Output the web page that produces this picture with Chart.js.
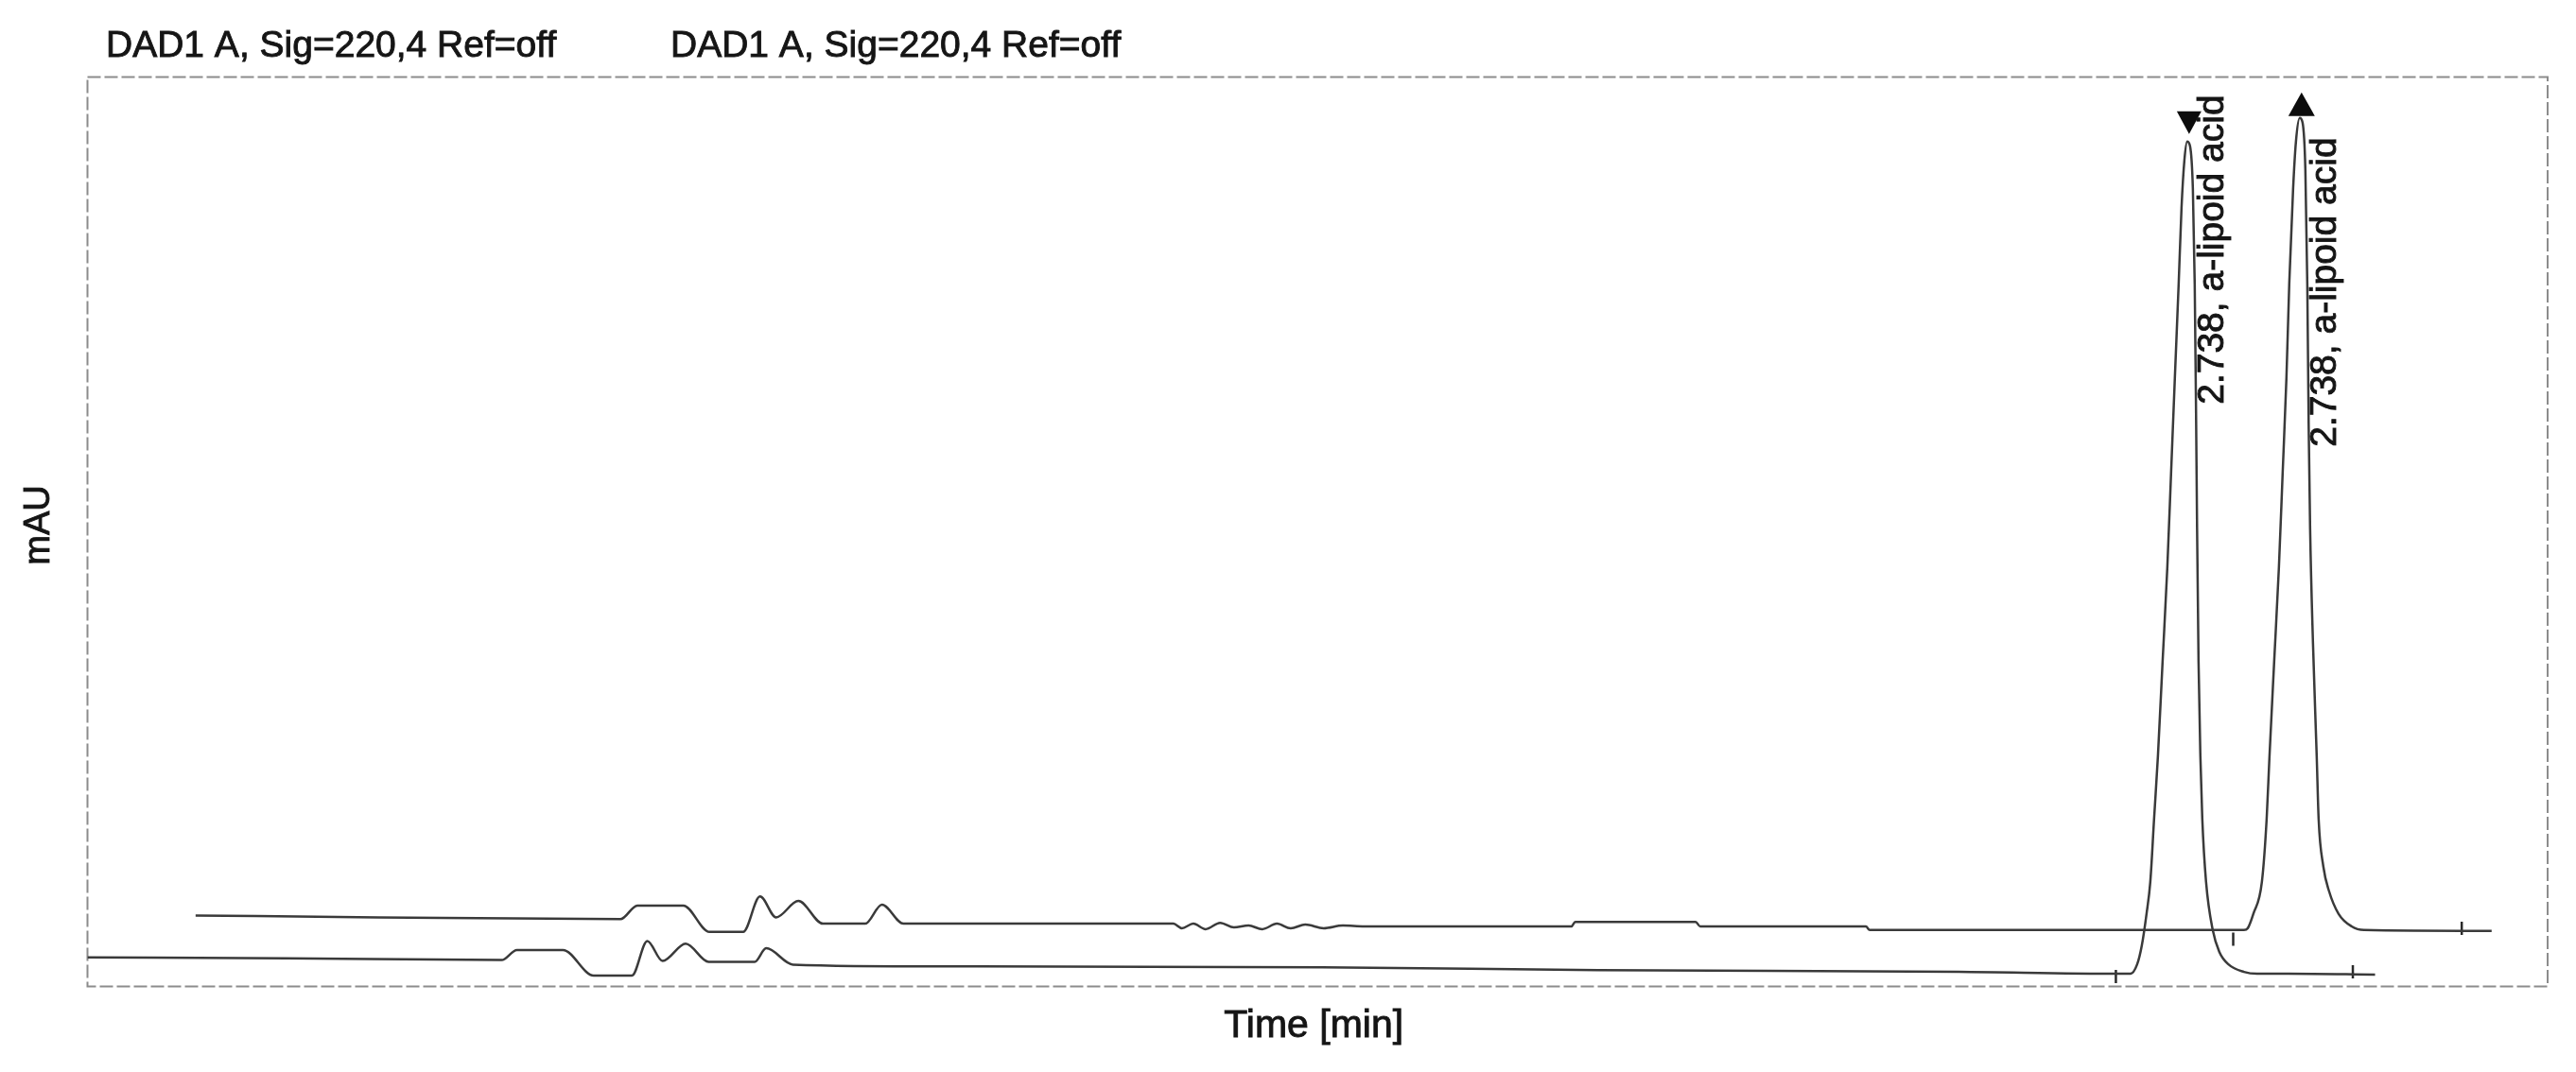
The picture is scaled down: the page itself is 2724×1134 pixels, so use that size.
<!DOCTYPE html>
<html>
<head>
<meta charset="utf-8">
<script src="https://cdn.jsdelivr.net/npm/chart.js@4"></script>
<style>
  html, body { margin: 0; padding: 0; background: #ffffff; }
  #wrap { width: 2724px; height: 1134px; }
</style>
</head>
<body>
<div id="wrap"><canvas id="c" width="2724" height="1134"></canvas></div>
<script>
// ---------------- data ----------------
// Lower trace (first run), time in min, signal in mAU
const timeA = [0.00, 0.26, 0.54, 0.56, 0.62, 0.66, 0.71, 0.73, 0.75, 0.78, 0.81, 0.87, 0.885, 0.92,
  1.12, 1.61, 1.97, 2.44, 2.648,
  2.6640, 2.6726, 2.6788, 2.6850, 2.6899, 2.6948, 2.6998, 2.7059, 2.7121, 2.7170, 2.7219, 2.7269,
  2.7306, 2.7343, 2.7380,
  2.7417, 2.7454, 2.7478, 2.7497, 2.7509, 2.7528, 2.7552, 2.7577, 2.7626, 2.7713, 2.7799, 2.7922,
  2.8120, 2.8292, 2.870, 2.983];
const mauA = [32, 31, 29, 40, 40, 12, 12, 50, 28, 47, 27, 27, 42, 24,
  22, 21, 18, 16, 14,
  14, 24, 45, 80, 115, 184, 253, 357, 461, 565, 669, 773,
  856, 908, 929,
  924, 877, 773, 617, 503, 357, 253, 184, 115, 62, 38, 24,
  16, 14, 14, 13];

// Upper trace (second run, drawn offset as in the overlay)
const timeB = [0.141, 0.379, 0.695, 0.717, 0.777, 0.811, 0.855, 0.877, 0.898, 0.927, 0.959, 1.014,
  1.036, 1.064, 1.416, 1.427, 1.442, 1.458, 1.477, 1.495, 1.514, 1.532, 1.551, 1.569, 1.588, 1.612,
  1.637, 1.665, 1.935, 1.940, 2.097, 2.103, 2.319, 2.324, 2.803,
  2.8120, 2.8169, 2.8243, 2.8354, 2.8416, 2.8453, 2.8514, 2.8576, 2.8625, 2.8674, 2.8711, 2.8761,
  2.8798, 2.8847,
  2.8884, 2.8921, 2.8946, 2.8964, 2.8983, 2.9020, 2.9069, 2.9094, 2.9155, 2.9229, 2.9353, 2.9525,
  2.9686, 3.135];
const mauB = [78, 76, 74, 89, 89, 60, 60, 99, 76, 94, 69, 69,
  90, 69, 69, 64, 69, 63, 70, 65, 67, 63, 69, 64, 68, 64,
  67, 66, 66, 71, 71, 66, 66, 62, 62,
  62, 64, 80, 115, 184, 253, 357, 461, 565, 669, 773, 877,
  929, 955,
  950, 898, 773, 617, 503, 378, 253, 184, 132, 105, 80, 66,
  62, 61];

// Integration start / end tick marks
const markTime = [2.645, 2.954, 2.798, 3.096];
const markMAU  = [11, 16, 52, 64];

// Texts
const signalTitles = ["DAD1 A, Sig=220,4 Ref=off", "DAD1 A, Sig=220,4 Ref=off"];
const peakLabels = ["2.738, a-lipoid acid", "2.738, a-lipoid acid"];
const xAxisTitle = "Time [min]";
const yAxisTitle = "mAU";

// ---------------- chart ----------------
const toXY = (xs, ys) => xs.map((x, i) => ({ x: x, y: ys[i] }));

const FONT = '"Liberation Sans", Arial, Helvetica, sans-serif';
const TEXT_COLOR = '#151515';

function heavyText(ctx, s, x, y) {
  ctx.fillText(s, x, y);
  ctx.strokeText(s, x, y);
}

const framePlugin = {
  id: 'frame',
  beforeDatasetsDraw(chart) {
    const { ctx, chartArea: a } = chart;
    ctx.save();
    ctx.strokeStyle = '#8c8c8c';
    ctx.lineWidth = 2;
    ctx.setLineDash([14, 4]);
    ctx.strokeRect(a.left, a.top, a.right - a.left, a.bottom - a.top);
    ctx.restore();
  }
};

const textPlugin = {
  id: 'texts',
  afterDraw(chart) {
    const { ctx, chartArea: a } = chart;
    ctx.save();
    ctx.fillStyle = TEXT_COLOR;
    ctx.strokeStyle = TEXT_COLOR;
    ctx.lineWidth = 0.9;
    ctx.textBaseline = 'alphabetic';

    // signal titles above the frame
    ctx.font = '39px ' + FONT;
    ctx.textAlign = 'left';
    heavyText(ctx, signalTitles[0], a.left + 19.5, a.top - 21.5);
    heavyText(ctx, signalTitles[1], a.left + 616.5, a.top - 21.5);

    // axis titles
    ctx.font = '41px ' + FONT;
    ctx.textAlign = 'center';
    heavyText(ctx, xAxisTitle, (a.left + a.right) / 2 - 4, a.bottom + 53.5);

    ctx.font = '38px ' + FONT;
    ctx.save();
    ctx.translate(52, (a.top + a.bottom) / 2 - 7);
    ctx.rotate(-Math.PI / 2);
    ctx.textAlign = 'center';
    heavyText(ctx, yAxisTitle, 0, 0);
    ctx.restore();

    // peak arrows and labels
    const cfg = [
      { ds: 0, dir: 'down', tipDx: 2, tipDy: -8, lblDx: 38, lblDy: 278 },
      { ds: 1, dir: 'up',   tipDx: 2, tipDy: -27, lblDx: 38, lblDy: 348 }
    ];
    cfg.forEach((c, k) => {
      const meta = chart.getDatasetMeta(c.ds);
      const vals = chart.data.datasets[c.ds].data.map(p => p.y);
      const idx = vals.indexOf(Math.max(...vals));
      const pt = meta.data[idx];
      const tx = pt.x + c.tipDx, ty = pt.y + c.tipDy;
      ctx.beginPath();
      if (c.dir === 'down') {
        ctx.moveTo(tx, ty);
        ctx.lineTo(tx - 13, ty - 24);
        ctx.lineTo(tx + 13, ty - 24);
      } else {
        ctx.moveTo(tx, ty);
        ctx.lineTo(tx - 14, ty + 25);
        ctx.lineTo(tx + 14, ty + 25);
      }
      ctx.closePath();
      ctx.fillStyle = '#0c0c0c';
      ctx.fill();

      ctx.save();
      ctx.fillStyle = TEXT_COLOR;
      ctx.font = '39px ' + FONT;
      ctx.translate(pt.x + c.lblDx, pt.y + c.lblDy);
      ctx.rotate(-Math.PI / 2);
      ctx.textAlign = 'left';
      ctx.textBaseline = 'alphabetic';
      heavyText(ctx, peakLabels[k], 0, 0);
      ctx.restore();
    });
    ctx.restore();
  }
};

new Chart(document.getElementById('c'), {
  type: 'line',
  data: {
    datasets: [
      {
        label: 'Run 1',
        data: toXY(timeA, mauA),
        borderColor: '#3a3a3a',
        borderWidth: 2.5,
        pointRadius: 0,
        cubicInterpolationMode: 'monotone',
        fill: false
      },
      {
        label: 'Run 2',
        data: toXY(timeB, mauB),
        borderColor: '#3a3a3a',
        borderWidth: 2.5,
        pointRadius: 0,
        cubicInterpolationMode: 'monotone',
        fill: false
      },
      {
        label: 'marks',
        type: 'scatter',
        data: toXY(markTime, markMAU),
        pointStyle: 'line',
        rotation: 90,
        pointRadius: 7,
        borderColor: '#2a2a2a',
        borderWidth: 2.5,
        showLine: false
      }
    ]
  },
  options: {
    responsive: false,
    animation: false,
    events: [],
    layout: { padding: { left: 92.5, right: 30, top: 81.5, bottom: 90.5 } },
    plugins: {
      legend: { display: false },
      title: { display: false },
      tooltip: { enabled: false }
    },
    scales: {
      x: { type: 'linear', min: 0, max: 3.208, display: false },
      y: { type: 'linear', min: 0, max: 1000, display: false }
    }
  },
  plugins: [framePlugin, textPlugin]
});
</script>
</body>
</html>
